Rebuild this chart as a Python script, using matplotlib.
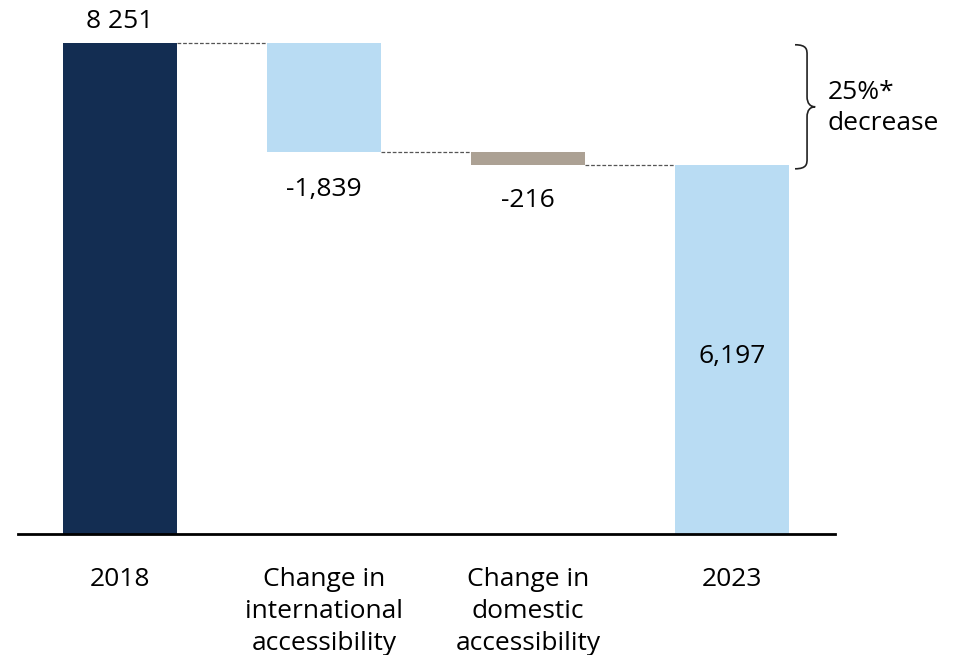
import matplotlib
matplotlib.use("Agg")
import matplotlib.pyplot as plt
from matplotlib.path import Path
from matplotlib.patches import PathPatch

plt.rcParams['font.family'] = ['Open Sans', 'DejaVu Sans']

categories = ["2018", "Change in\ninternational\naccessibility", "Change in\ndomestic\naccessibility", "2023"]
start_value = 8251
changes = [-1839, -216]
end_value = 6197
value_labels = ["8 251", "-1,839", "-216", "6,197"]
note_text = "25%*\ndecrease"

navy = "#132d52"
light_blue = "#b9dcf3"
taupe = "#aca194"

fig = plt.figure(figsize=(9.61, 6.55), dpi=100)
ax = fig.add_axes([18/961, 121/655, 817/961, 0.7995])
ax.set_xlim(-0.5, 3.505)
ax.set_ylim(0, 8800)
for s in ax.spines.values():
    s.set_visible(False)
ax.spines['bottom'].set_visible(True)
ax.spines['bottom'].set_linewidth(2)
ax.spines['bottom'].set_color('black')
ax.set_yticks([])

w = 0.56
x = [0, 1, 2, 3]
# waterfall geometry
level1 = start_value + changes[0]
level2 = level1 + changes[1]
ax.bar(x[0], start_value, width=w, color=navy, zorder=2)
ax.bar(x[1], -changes[0], bottom=level1, width=w, color=light_blue, zorder=2)
ax.bar(x[2], -changes[1], bottom=level2, width=w, color=taupe, zorder=2)
ax.bar(x[3], end_value, width=w, color=light_blue, zorder=2)

# connectors
levels = [start_value, level1, level2]
for i, lv in enumerate(levels):
    ax.plot([x[i] + w/2, x[i+1] - w/2], [lv, lv], ls=(0, (3, 1.5)), lw=0.9,
            color="#555555", zorder=1)

fs = 19
ax.text(x[0], start_value + 360, value_labels[0], ha='center', va='center', fontsize=fs, clip_on=False)
ax.text(x[1], level1 - 620, value_labels[1], ha='center', va='center', fontsize=fs)
ax.text(x[2], level2 - 600, value_labels[2], ha='center', va='center', fontsize=fs)
ax.text(x[3], end_value - 3210, value_labels[3], ha='center', va='center', fontsize=fs)

ax.set_xticks(x)
ax.set_xticklabels(categories, fontsize=fs, linespacing=1.37)
ax.tick_params(axis='x', length=0, pad=24)

# curly brace
xb = 3.309
dx = 0.059
tip = 0.04
ytop = start_value - 30
ybot = end_value - 60
ymid = (ytop + ybot) / 2
c = 170
verts = [
    (xb, ytop),
    (xb + dx, ytop), (xb + dx, ytop - c/2), (xb + dx, ytop - c),
    (xb + dx, ymid + c),
    (xb + dx, ymid + c/3), (xb + dx + tip*0.4, ymid), (xb + dx + tip, ymid),
    (xb + dx + tip*0.4, ymid), (xb + dx, ymid - c/3), (xb + dx, ymid - c),
    (xb + dx, ybot + c),
    (xb + dx, ybot + c/2), (xb + dx, ybot), (xb, ybot),
]
codes = [Path.MOVETO,
         Path.CURVE4, Path.CURVE4, Path.CURVE4,
         Path.LINETO,
         Path.CURVE4, Path.CURVE4, Path.CURVE4,
         Path.CURVE4, Path.CURVE4, Path.CURVE4,
         Path.LINETO,
         Path.CURVE4, Path.CURVE4, Path.CURVE4]
ax.add_patch(PathPatch(Path(verts, codes), facecolor='none', edgecolor='#222222',
                       lw=1.2, clip_on=False))
ax.text(3.47, ymid - 20, note_text, ha='left', va='center', fontsize=fs,
        linespacing=1.3, clip_on=False)

fig.savefig("out.png", dpi=100)
